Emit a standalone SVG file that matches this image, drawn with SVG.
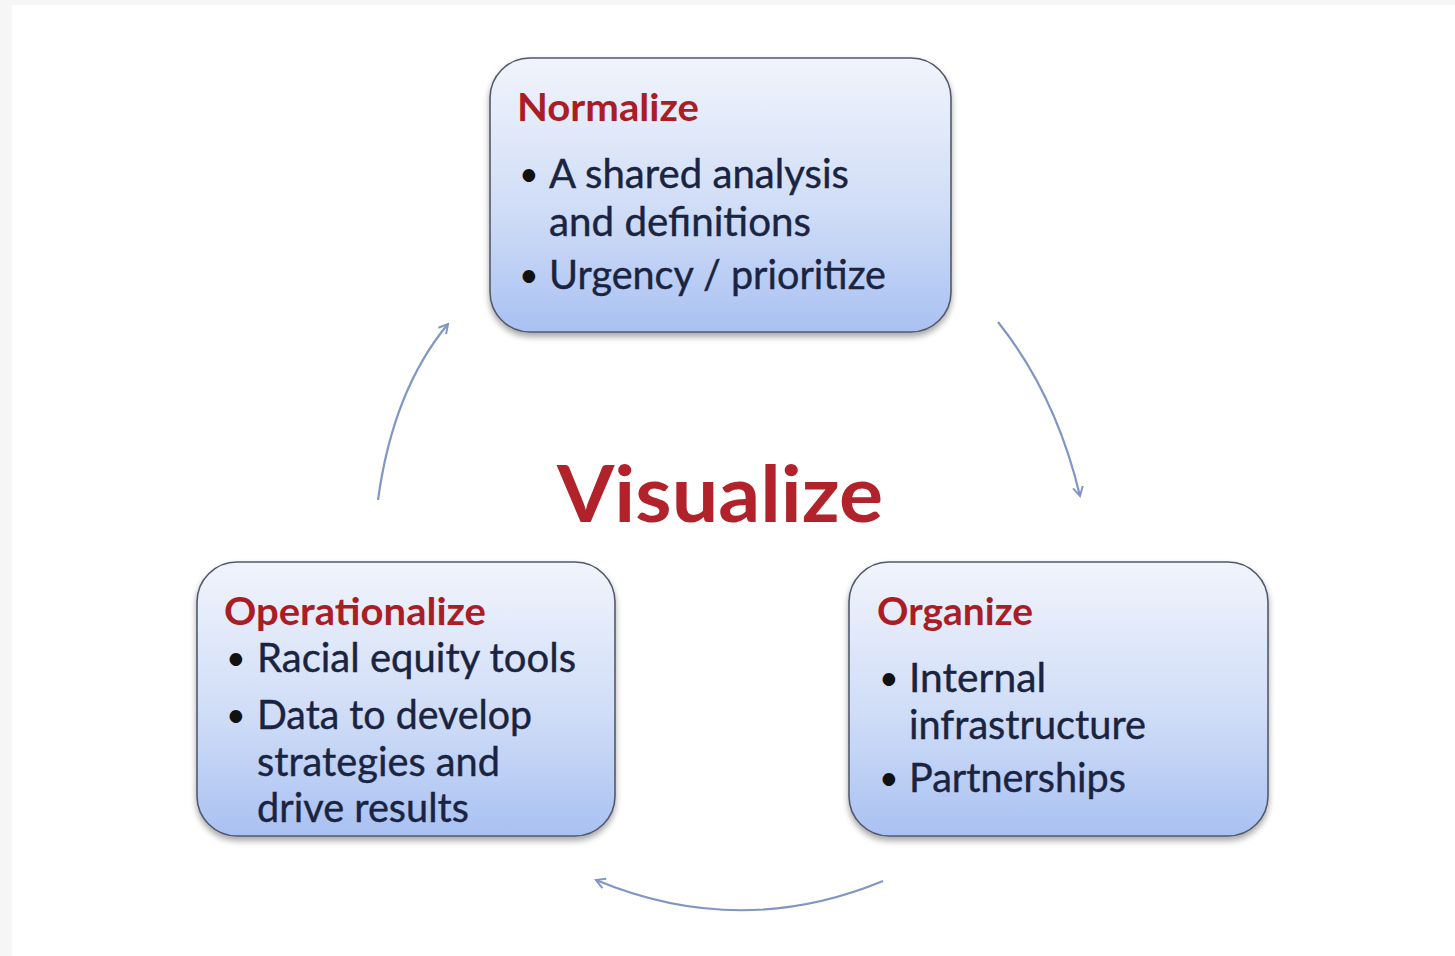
<svg xmlns="http://www.w3.org/2000/svg" width="1455" height="956" viewBox="0 0 1455 956">
<style>
.title{font-family:Lato,"Open Sans",sans-serif;font-weight:bold;fill:#ab1d25;font-size:38px}
.body{font-family:Lato,"Open Sans",sans-serif;fill:#1a2440;font-size:40px;stroke:#1a2440;stroke-width:0.4}
.bul{font-family:Lato,"Open Sans",sans-serif;fill:#111;font-size:34px}
.box{fill:url(#g);stroke:#525a6c;stroke-width:1.6}
.arc{fill:none;stroke:#8096c4;stroke-width:2.2;marker-end:url(#ah)}
</style>
<defs>
<linearGradient id="g" x1="0" y1="0" x2="0" y2="1">
<stop offset="0" stop-color="#f1f4fc"/>
<stop offset="0.55" stop-color="#d0ddf7"/>
<stop offset="1" stop-color="#a9c1f2"/>
</linearGradient>
<filter id="sh" x="-10%" y="-10%" width="120%" height="125%">
<feDropShadow dx="0" dy="4" stdDeviation="3" flood-color="#000" flood-opacity="0.35"/>
</filter>
<marker id="ah" viewBox="0 0 12 12" refX="10" refY="6" markerWidth="12" markerHeight="12" markerUnits="userSpaceOnUse" orient="auto">
<path d="M1,1 L10,6 L1,11" fill="none" stroke="#8096c4" stroke-width="2"/>
</marker>
</defs>
<rect x="0" y="0" width="1455" height="956" fill="#f6f6f6"/>
<rect x="12" y="5" width="1443" height="951" fill="#ffffff"/>
<g id="connectors">
<path class="arc" d="M378,500 Q393,390 448,324"/>
<path class="arc" d="M998,322 Q1056,395 1080,496"/>
<path class="arc" d="M883,881 Q740,940 596,880"/>
</g>
<g id="normalize">
<rect class="box" x="490" y="58" width="461" height="274" rx="40" filter="url(#sh)"/>
<text class="title" x="517" y="121" textLength="182" lengthAdjust="spacingAndGlyphs">Normalize</text>
<text class="bul" x="519" y="186">•</text>
<text class="body" x="549" y="188" textLength="300" lengthAdjust="spacingAndGlyphs">A shared analysis</text>
<text class="body" x="549" y="236" textLength="262" lengthAdjust="spacingAndGlyphs">and definitions</text>
<text class="bul" x="519" y="287">•</text>
<text class="body" x="549" y="289" textLength="337" lengthAdjust="spacingAndGlyphs">Urgency / prioritize</text>
</g>
<g id="operationalize">
<rect class="box" x="197" y="562" width="418" height="274" rx="40" filter="url(#sh)"/>
<text class="title" x="224" y="625" textLength="262" lengthAdjust="spacingAndGlyphs">Operationalize</text>
<text class="bul" x="226" y="670">•</text>
<text class="body" x="257" y="672" textLength="319" lengthAdjust="spacingAndGlyphs">Racial equity tools</text>
<text class="bul" x="226" y="727">•</text>
<text class="body" x="257" y="729" textLength="275" lengthAdjust="spacingAndGlyphs">Data to develop</text>
<text class="body" x="257" y="776" textLength="243" lengthAdjust="spacingAndGlyphs">strategies and</text>
<text class="body" x="257" y="822" textLength="212" lengthAdjust="spacingAndGlyphs">drive results</text>
</g>
<g id="organize">
<rect class="box" x="849" y="562" width="419" height="274" rx="40" filter="url(#sh)"/>
<text class="title" x="877" y="625" textLength="156" lengthAdjust="spacingAndGlyphs">Organize</text>
<text class="bul" x="879" y="690">•</text>
<text class="body" x="909" y="692" textLength="137" lengthAdjust="spacingAndGlyphs">Internal</text>
<text class="body" x="909" y="739" textLength="237" lengthAdjust="spacingAndGlyphs">infrastructure</text>
<text class="bul" x="879" y="790">•</text>
<text class="body" x="909" y="792" textLength="217" lengthAdjust="spacingAndGlyphs">Partnerships</text>
</g>
<g id="visualize">
<text x="557" y="522" font-family="Lato,'Open Sans',sans-serif" font-weight="bold" font-size="78" fill="#b2222a" textLength="326" lengthAdjust="spacingAndGlyphs">Visualize</text>
</g>
</svg>
